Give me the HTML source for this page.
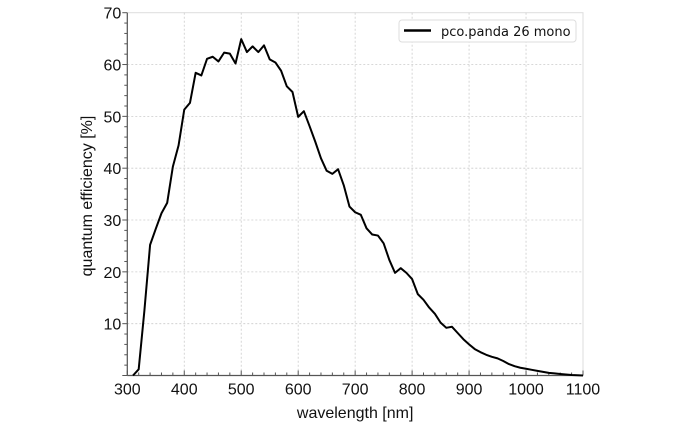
<!DOCTYPE html>
<html><head><meta charset="utf-8"><style>
body{margin:0;background:#fff}
svg{display:block;font-family:"Liberation Sans",sans-serif}
</style></head><body>
<svg width="690" height="428" id="chart"></svg>
<script>
const wavelengths=[310,320,330,340,350,360,370,380,390,400,410,420,430,440,450,460,470,480,490,500,510,520,530,540,550,560,570,580,590,600,610,620,630,640,650,660,670,680,690,700,710,720,730,740,750,760,770,780,790,800,810,820,830,840,850,860,870,880,890,900,910,920,930,940,950,960,970,980,990,1000,1010,1020,1030,1040,1050,1060,1070,1080,1090,1100];
const qeValues=[0,1.2,12.5,25.2,28.3,31.3,33.3,40.3,44.4,51.3,52.6,58.4,57.9,61.1,61.5,60.6,62.3,62.1,60.2,64.9,62.4,63.5,62.4,63.7,61.0,60.4,58.8,55.8,54.7,49.9,51.0,48.1,45.1,41.9,39.5,38.9,39.8,36.7,32.6,31.5,31.0,28.4,27.2,27.0,25.5,22.3,19.8,20.7,19.8,18.6,15.7,14.6,13.1,11.9,10.2,9.2,9.4,8.2,7.0,6.0,5.1,4.5,4.0,3.6,3.3,2.8,2.2,1.8,1.5,1.3,1.1,0.9,0.7,0.5,0.4,0.3,0.2,0.1,0.05,0];
const xTicks=[300,400,500,600,700,800,900,1000,1100];
const yTicks=[10,20,30,40,50,60,70];
const seriesName="pco.panda 26 mono";
const NS="http://www.w3.org/2000/svg";
const svg=document.getElementById('chart');
const L=127.3,R=583,T=12.7,B=375.5;
const xs=v=>L+(v-300)/800*(R-L);
const ys=v=>B-v/70*(B-T);
function mk(tag,attrs,parent){const e=document.createElementNS(NS,tag);for(const k in attrs)e.setAttribute(k,attrs[k]);(parent||svg).appendChild(e);return e;}
const fr=mk('rect',{x:L,y:T,width:R-L,height:B-T,fill:'none',stroke:'#ddd','stroke-width':1});


xTicks.forEach(t=>{if(t>300&&t<1100){const g=mk('line',{x1:xs(t),x2:xs(t),y1:T,y2:B,stroke:'#ccc','stroke-dasharray':'2,2','stroke-width':0.8});

}});
yTicks.forEach(t=>{if(t<70){const g=mk('line',{x1:L,x2:R,y1:ys(t),y2:ys(t),stroke:'#ccc','stroke-dasharray':'2,2','stroke-width':0.8});

}});
const ax=mk('line',{x1:L,x2:R,y1:B,y2:B,stroke:'#555','stroke-width':1.2});


const ay=mk('line',{x1:L,x2:L,y1:T,y2:B,stroke:'#555','stroke-width':1.2});


for(let v=300;v<=1100;v+=20){const major=v%100===0;mk('line',{x1:xs(v),x2:xs(v),y1:B,y2:B-(major?5:3),stroke:'#555','stroke-width':1});}
for(let v=0;v<=70;v+=2){const major=v%10===0;mk('line',{x1:L,x2:L-(major?5:3),y1:ys(v),y2:ys(v),stroke:'#555','stroke-width':1});}
xTicks.forEach(t=>{const e=mk('text',{x:xs(t),y:B+19,'text-anchor':'middle','font-size':16,fill:'#111'});e.textContent=t;

});
yTicks.forEach(t=>{const e=mk('text',{x:L-6,y:ys(t)+6,'text-anchor':'end','font-size':16,fill:'#111'});e.textContent=t;

});
const xt=mk('text',{x:(L+R)/2,y:418,'text-anchor':'middle','font-size':16,fill:'#111'});xt.textContent='wavelength [nm]';


const yt=mk('text',{x:0,y:0,'text-anchor':'middle','font-size':16,fill:'#111',transform:`translate(92,196) rotate(-90)`});yt.textContent='quantum efficiency [%]';


const d=wavelengths.map((w,i)=>(i?'L':'M')+xs(w).toFixed(2)+','+ys(qeValues[i]).toFixed(2)).join('');
const p=mk('path',{d:d,fill:'none',stroke:'#000','stroke-width':2,'stroke-linejoin':'round'});


const lg=mk('g',{});


mk('rect',{x:399,y:20,width:177,height:22,rx:3,fill:'#fff',stroke:'#ddd'},lg);
mk('line',{x1:404,x2:431,y1:30.5,y2:30.5,stroke:'#000','stroke-width':2.5},lg);
const lt=mk('text',{x:441,y:36,'font-size':13,fill:'#111','font-family':'DejaVu Sans, sans-serif'},lg);lt.textContent=seriesName;


</script>
</body></html>
